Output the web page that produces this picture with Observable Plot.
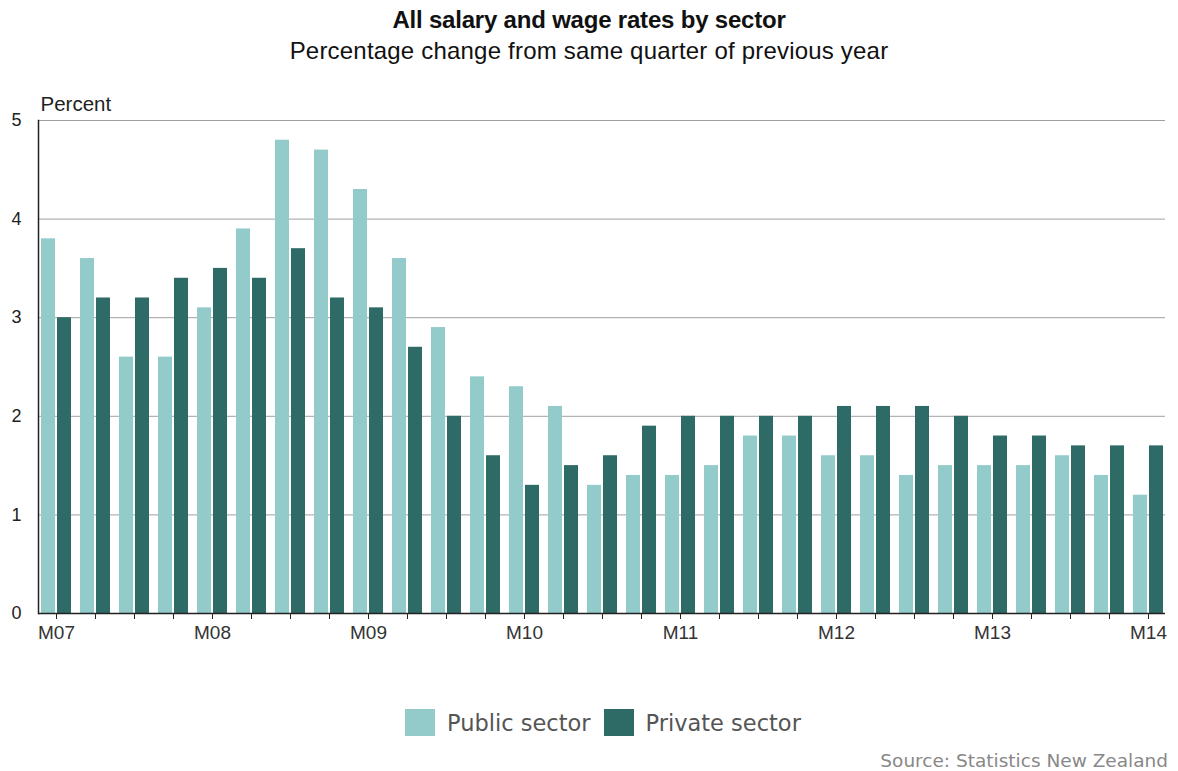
<!DOCTYPE html>
<html>
<head>
<meta charset="utf-8">
<script src="https://cdn.jsdelivr.net/npm/d3@7"></script>
<script src="https://cdn.jsdelivr.net/npm/@observablehq/plot@0.6"></script>
<style>
  html, body { margin: 0; padding: 0; background: #fff; }
  #wrap { position: relative; width: 1178px; height: 771px; font-family: "Liberation Sans", Arial, sans-serif; }
  #title { position: absolute; left: 0; width: 1178px; top: 6px; text-align: center; font-weight: bold; font-size: 24px; color: #111; line-height: 28px; letter-spacing: -0.2px; }
  #subtitle { position: absolute; left: 0; width: 1178px; top: 37px; text-align: center; font-size: 24px; color: #111; line-height: 28px; letter-spacing: 0.2px; }
  #chart { position: absolute; left: 0; top: 80px; }
  #legend { position: absolute; left: 405px; top: 709px; display: flex; align-items: center; font-family: "DejaVu Sans", Verdana, sans-serif; font-size: 22.5px; color: #555; }
  .sw { width: 30px; height: 27px; display: inline-block; margin-right: 12px; }
  .item { display: flex; align-items: center; margin-right: 13px; }
  #source { position: absolute; right: 10px; top: 750px; font-family: "DejaVu Sans", Verdana, sans-serif; font-size: 18.5px; color: #888; }
</style>
</head>
<body>
<div id="wrap">
  <div id="title">All salary and wage rates by sector</div>
  <div id="subtitle">Percentage change from same quarter of previous year</div>
  <div id="chart"></div>
  <div id="legend"></div>
  <div id="source">Source: Statistics New Zealand</div>
</div>
<script>
const quarters = [
  "M07","J07","S07","D07",
  "M08","J08","S08","D08",
  "M09","J09","S09","D09",
  "M10","J10","S10","D10",
  "M11","J11","S11","D11",
  "M12","J12","S12","D12",
  "M13","J13","S13","D13",
  "M14"
];
const publicSector = [
  3.8, 3.6, 2.6, 2.6,
  3.1, 3.9, 4.8, 4.7,
  4.3, 3.6, 2.9, 2.4,
  2.3, 2.1, 1.3, 1.4,
  1.4, 1.5, 1.8, 1.8,
  1.6, 1.6, 1.4, 1.5,
  1.5, 1.5, 1.6, 1.4,
  1.2
];
const privateSector = [
  3.0, 3.2, 3.2, 3.4,
  3.5, 3.4, 3.7, 3.2,
  3.1, 2.7, 2.0, 1.6,
  1.3, 1.5, 1.6, 1.9,
  2.0, 2.0, 2.0, 2.0,
  2.1, 2.1, 2.1, 2.0,
  1.8, 1.8, 1.7, 1.7,
  1.7
];
const seriesNames = ["Public sector", "Private sector"];
const seriesColors = ["#93cbca", "#2e6a66"];
const yTicks = [0, 1, 2, 3, 4, 5];

const data = quarters.map((q, i) => ({q, pub: publicSector[i], priv: privateSector[i]}));

const chart = Plot.plot({
  width: 1178,
  height: 600,
  marginLeft: 38,
  marginRight: 13,
  marginTop: 40,
  marginBottom: 67,
  x: {domain: quarters, paddingInner: 0.235, paddingOuter: 0},
  y: {domain: [0, 5]},
  style: {fontFamily: "'Liberation Sans', Arial, sans-serif", fontSize: "19px", color: "#333", background: "#fff"},
  marks: [
    Plot.gridY(yTicks.slice(1), {stroke: "#a0a0a0", strokeOpacity: 1}),
    Plot.barY(data, {x: "q", y: "pub", fill: seriesColors[0], insetRight: 16}),
    Plot.barY(data, {x: "q", y: "priv", fill: seriesColors[1], insetLeft: 16}),
    Plot.ruleY([0], {stroke: "#222", strokeWidth: 1.5}),
    Plot.frame({anchor: "left", stroke: "#222", strokeWidth: 1.5}),
    Plot.axisY(yTicks, {tickSize: 0, tickPadding: 17, label: null, fill: "#222", fontSize: 18, tickFormat: d => String(d)}),
    Plot.axisX({tickSize: 6, tickPadding: 6, stroke: "#222", fill: "#333", label: null,
      tickFormat: d => d.startsWith("M") ? d : ""}),
    Plot.text(["Percent"], {text: d => d, frameAnchor: "top-left", textAnchor: "start", lineAnchor: "bottom", dx: 2, dy: -10, fill: "#222", fontSize: 20.5})
  ]
});
document.getElementById("chart").appendChild(chart);

const legend = document.getElementById("legend");
seriesNames.forEach((name, i) => {
  const item = document.createElement("div");
  item.className = "item";
  const sw = document.createElement("span");
  sw.className = "sw";
  sw.style.background = seriesColors[i];
  item.appendChild(sw);
  item.appendChild(document.createTextNode(name));
  legend.appendChild(item);
});
</script>
</body>
</html>
